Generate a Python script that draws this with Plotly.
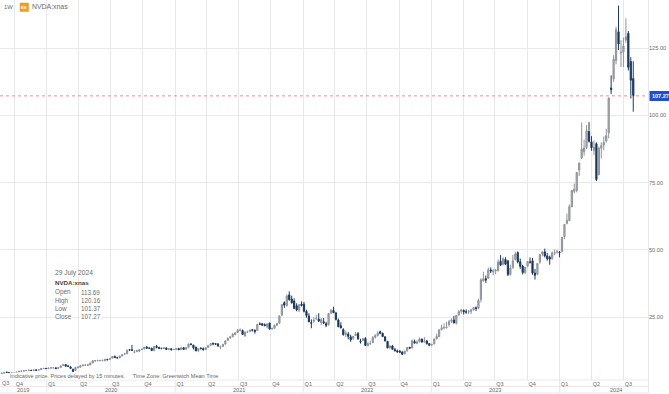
import pandas as pd
import plotly.graph_objects as go

last_week = "2024-07-29"

open_ = [
 3.9,4.1, 4.2,4.6,4.5,4.4,4.4, 4.4,4.6,4.9,5.0, 5.1,5.2,5.3,5.2, 5.4,5.3,5.5,5.9,6.0,
 5.9,6.1,6.2,6.2, 6.0,6.3,7.0,7.4, 6.9,6.5,5.6,5.2,6.2, 6.4,7.0,7.2,7.1, 7.3,8.0,8.7,8.9, 8.9,8.9,8.8,9.3,9.3, 9.8,10.4,9.9,9.9, 10.6,11.3,11.4,12.9,12.9, 12.0,12.3,12.4,13.0, 13.2,13.9,13.5,13.5, 12.7,14.2,13.8,13.4,13.4, 13.6,13.2,13.3,13.0,
 13.1,13.4,13.0,13.7, 13.1,13.8,15.0,14.6, 13.9,12.6,13.4,13.3,13.0, 13.8,14.6,15.3,15.2, 15.1,13.9,14.2,15.0,16.4, 17.4,17.8,18.6,19.3, 20.2,20.1,18.0,19.5, 19.6,20.4,20.2,20.1,22.5, 22.6,22.3,21.5,22.8, 20.7,20.9,22.0,22.8, 25.8,30.4,29.3,33.3,31.8, 31.0,29.3,27.6,29.9,
 29.8,27.2,25.5,23.0,23.5, 24.4,24.3,23.0,23.3, 22.6,22.2,26.6,27.5, 26.6,24.0,21.8,20.4, 18.6,18.7,17.7,17.2,18.2, 18.9,16.0,16.3,17.1, 14.5,15.2,15.6,17.5, 18.2,19.6,19.0,17.7,16.0, 13.6,14.3,13.0,12.5, 12.4,12.1,11.5,12.5,13.8, 13.6,16.0,15.3,15.9, 16.9,15.9,16.2,15.2,
 14.9,15.1,16.9,17.8,20.4, 21.0,21.1,22.3,23.5, 24.0,22.8,25.9,27.2, 27.5,27.0,27.0,27.2, 27.8,28.5,28.3,31.6,38.5, 39.3,39.5,42.5,42.0, 42.3,42.3,45.8,44.7,46.5, 46.0,40.9,43.5,46.5, 49.0,45.6,44.0,41.6, 44.0,45.5,46.0,41.4,41.0, 45.5,48.5,49.3,47.8, 47.3,46.8,48.8,49.2,
 49.2,49.5,55.0,59.9,60.9, 66.0,71.8,72.1,79.7, 84.2,86.5,88.0,94.0, 90.2,87.0,89.5,78.0,87.8, 89.0,90.5,93.5,110.2, 113.6,120.4,131.1,123.2, 123.5,128.0,130.5,120.0,113.69,
]
high = [
 4.2,4.3, 4.6,4.7,4.6,4.5,4.5, 4.7,5.0,5.1,5.2, 5.3,5.4,5.4,5.5, 5.5,5.6,6.0,6.1,6.1,
 6.2,6.3,6.4,6.3, 6.3,7.0,7.6,7.5, 7.2,6.9,5.9,6.6,6.6, 7.1,7.4,7.5,7.5, 8.1,9.0,9.0,9.2, 9.2,9.3,9.6,9.6,9.8, 10.5,10.8,10.3,10.7, 11.3,11.8,13.0,13.2,14.7, 12.8,12.9,13.1,13.4, 14.0,14.3,13.8,13.6, 14.3,14.7,14.0,13.7,13.9, 13.8,13.5,13.4,13.2,
 13.6,13.6,14.0,13.9, 13.9,15.3,15.4,14.8, 14.0,13.6,13.9,13.8,13.8, 14.7,15.4,15.6,15.4, 15.2,14.4,15.1,16.4,17.4, 17.9,19.0,19.4,20.6, 20.8,20.4,19.7,20.0, 20.4,20.6,20.4,22.6,23.1, 22.9,22.7,22.7,23.0, 21.2,22.2,22.9,25.7, 29.8,30.9,33.5,34.6,33.0, 32.0,30.2,29.9,30.9,
 30.7,27.8,26.5,24.2,25.0, 25.9,26.5,24.7,24.7, 23.3,26.6,28.1,28.9, 27.0,24.5,23.1,20.9, 20.0,19.5,18.5,18.0,19.5, 19.5,17.0,17.4,17.6, 15.7,16.2,18.0,18.7, 19.8,20.0,19.3,17.9,16.2, 14.6,14.7,13.6,13.0, 12.8,12.3,12.6,13.9,14.0, 16.7,16.7,16.4,17.5, 17.0,17.6,16.5,15.4,
 15.1,17.0,18.9,20.5,22.1, 22.7,23.2,24.0,24.6, 25.5,25.8,27.7,28.0, 27.9,27.9,27.7,28.0, 28.8,29.0,31.9,39.5,41.9, 40.5,43.5,43.5,43.0, 43.0,46.5,48.1,47.3,47.3, 46.0,44.5,48.2,49.4, 49.5,46.8,44.5,43.8, 45.9,47.2,47.0,42.9,45.1, 48.5,49.5,50.5,48.9, 47.9,49.5,50.1,49.9,
 49.6,54.9,59.5,63.5,66.9, 72.2,74.7,78.9,82.5, 97.4,91.0,96.4,97.5, 92.3,90.7,90.0,88.4,90.0, 92.2,95.0,106.3,114.9, 122.4,132.9,140.8,128.0, 128.9,136.1,131.4,121.6,120.16,
]
low = [
 3.8,4.0, 4.2,4.4,4.3,4.2,4.2, 4.3,4.5,4.8,4.9, 5.0,5.1,5.1,5.1, 5.2,5.2,5.4,5.8,5.8,
 5.9,6.0,6.0,5.8, 6.0,6.3,7.0,6.7, 6.5,5.8,4.5,5.2,6.1, 6.3,6.8,6.9,6.9, 7.2,7.9,8.5,8.6, 8.6,8.6,8.7,9.0,9.2, 9.7,9.8,9.7,9.8, 10.5,11.0,11.3,12.5,12.5, 11.6,12.0,12.0,12.8, 13.1,13.4,13.3,12.5, 12.3,13.4,13.2,13.1,13.2, 12.9,12.8,12.7,12.8,
 12.8,12.8,12.9,12.9, 13.0,13.7,14.7,13.0, 12.4,12.0,13.1,12.7,12.9, 13.7,14.4,14.6,14.8, 14.1,13.2,13.9,14.9,16.3, 17.0,17.5,18.3,19.2, 19.7,18.5,17.8,19.2, 19.5,19.7,18.9,19.9,22.1, 21.9,21.6,20.8,20.4, 20.4,20.6,21.8,22.6, 25.5,28.5,29.0,31.2,30.0, 28.0,27.2,26.9,29.0,
 26.8,24.8,23.2,20.9,23.0, 24.1,23.2,22.0,22.5, 21.3,21.9,26.1,26.5, 23.8,21.3,20.9,18.2, 17.6,16.8,15.9,16.5,18.0, 16.7,15.2,16.2,14.4, 14.1,14.7,15.3,17.1, 17.8,18.7,17.7,16.0,13.5, 13.4,13.0,12.2,11.9, 11.9,11.0,11.1,12.2,13.2, 13.4,15.2,15.0,15.6, 15.5,15.5,14.8,14.3,
 14.1,14.9,16.9,17.6,20.1, 20.5,20.8,21.5,22.9, 22.7,22.3,25.4,26.3, 26.0,26.3,26.2,26.2, 27.4,27.3,28.1,30.5,38.2, 37.8,39.2,41.4,40.6, 41.0,42.0,44.0,44.2,44.5, 40.3,40.5,43.0,46.1, 45.0,43.0,40.9,41.0, 43.5,44.9,40.8,39.0,40.6, 44.9,47.6,47.2,46.0, 44.5,46.3,48.0,48.6,
 47.3,49.0,54.0,59.5,60.9, 66.0,71.0,71.4,77.5, 83.8,85.0,87.5,89.9, 86.9,85.3,75.6,77.7,84.0, 87.0,89.9,91.5,107.9, 112.5,119.0,124.3,118.0, 118.0,127.0,116.7,106.3,101.37,
]
close = [
 4.0,4.2, 4.5,4.5,4.4,4.3,4.4, 4.6,4.9,5.0,5.1, 5.2,5.3,5.2,5.4, 5.3,5.5,5.9,6.0,5.9,
 6.1,6.2,6.2,5.9, 6.2,6.9,7.4,6.8, 6.7,6.0,4.9,6.3,6.5, 7.0,7.2,7.2,7.3, 8.0,8.8,8.9,8.9, 8.9,8.9,9.3,9.2,9.7, 10.4,10.0,9.9,10.6, 11.1,11.4,12.7,12.8,12.7, 12.1,12.6,12.9,13.1, 13.8,13.5,13.5,12.6, 14.1,13.8,13.4,13.4,13.6, 13.0,13.2,12.9,13.05,
 13.3,12.9,13.6,13.0, 13.7,15.0,14.8,13.7, 12.5,13.4,13.3,12.9,13.7, 14.5,15.2,15.1,15.0, 14.3,14.1,14.9,16.2,17.2, 17.7,18.8,19.2,20.2, 20.2,18.6,19.5,19.5, 20.2,20.2,19.7,22.3,22.4, 22.0,21.9,22.5,20.6, 20.8,22.0,22.7,25.5, 29.7,29.5,32.9,31.5,30.4, 28.3,27.7,29.6,29.4,
 27.2,25.6,23.3,22.8,23.9, 24.5,23.6,24.1,22.9, 22.0,26.4,27.6,26.7, 24.2,21.5,21.0,18.5, 19.0,17.9,16.6,17.9,18.7, 16.9,15.8,17.0,14.5, 15.2,15.2,17.4,18.2, 19.1,19.0,17.8,16.2,13.6, 14.3,13.1,12.6,12.1, 12.0,11.2,12.4,13.8,13.5, 16.3,15.4,15.8,16.9, 15.8,16.1,15.2,14.6,
 14.9,16.9,17.9,20.3,21.1, 21.2,21.4,23.3,23.9, 22.9,25.7,27.1,27.8, 27.0,26.9,27.1,27.8, 28.6,28.3,31.2,38.9,39.3, 38.8,42.6,42.2,42.3, 42.5,45.5,44.4,46.7,44.7, 40.9,43.3,46.0,48.5, 45.6,43.9,41.6,43.5, 45.7,45.5,41.4,40.6,45.0, 48.3,49.3,47.8,46.7, 46.6,48.9,49.0,49.5,
 49.0,54.7,59.5,61.0,66.1, 72.1,72.6,78.8,82.3, 87.5,87.9,94.3,90.4, 88.0,88.2,76.2,87.8,88.8, 89.9,92.5,106.5,109.6, 120.9,131.9,126.6,123.5, 125.8,129.2,117.9,113.1,107.27,
]

quarter_dates = ["2019-10-01","2020-01-01","2020-04-01","2020-07-01","2020-10-01","2021-01-01","2021-04-01","2021-07-01",
                 "2021-10-01","2022-01-01","2022-04-01","2022-07-01","2022-10-01","2023-01-01","2023-04-01","2023-07-01",
                 "2023-10-01","2024-01-01","2024-04-01","2024-07-01"]
quarter_labels = ["Q4","Q1","Q2","Q3","Q4","Q1","Q2","Q3","Q4","Q1","Q2","Q3","Q4","Q1","Q2","Q3","Q4","Q1","Q2","Q3"]
year_labels = ["2019","2020","2021","2022","2023","2024"]
year_label_dates = ["2019-10-25","2020-07-01","2021-07-01","2022-07-01","2023-07-01","2024-06-10"]
year_starts = ["2020-01-01","2021-01-01","2022-01-01","2023-01-01","2024-01-01"]
price_ticks = [25, 50, 75, 100, 125]
last_price = 107.27
info_rows = [("Open","113.69"),("High","120.16"),("Low","101.37"),("Close","107.27")]

dates = pd.date_range(end=last_week, periods=len(close), freq="7D")

W, H = 669, 394
PW, PH = 648, 380
GRID = "#e8e8e8"
TXT = "#6b6b6b"
FONT = "Liberation Sans, Arial, sans-serif"

def fx(p): return p / PW
def fy(p): return (PH - p) / PH

fig = go.Figure(go.Candlestick(
    x=dates, open=open_, high=high, low=low, close=close,
    increasing=dict(line=dict(color="#8d929a", width=1), fillcolor="#aeb2b8"),
    decreasing=dict(line=dict(color="#1c3a5e", width=1), fillcolor="#14304f"),
    whiskerwidth=0, hoverinfo="skip", showlegend=False,
))

def label(px, py, text, size=6.4, color=TXT, anchor="left", bg=None, bold=False):
    fig.add_annotation(xref="paper", yref="paper", x=fx(px), y=fy(py), text=f"<b>{text}</b>" if bold else text,
                       showarrow=False, xanchor=anchor, yanchor="middle", bgcolor=bg,
                       font=dict(size=size, color=color, family=FONT), borderpad=0)

def hline(py, x0=0, x1=PW, color=GRID):
    fig.add_shape(type="line", xref="paper", yref="paper", x0=fx(x0), x1=fx(x1), y0=fy(py), y1=fy(py),
                  line=dict(color=color, width=1), layer="below")

for py in (380, 386.5, 393):
    hline(py)
fig.add_shape(type="line", xref="paper", yref="paper", x0=fx(648.5), x1=fx(648.5), y0=fy(0), y1=fy(393),
              line=dict(color=GRID, width=1), layer="below")
for d in year_starts:
    fig.add_shape(type="line", xref="x", yref="paper", x0=d, x1=d, y0=fy(380), y1=fy(393),
                  line=dict(color=GRID, width=1), layer="below")

fig.add_shape(type="line", xref="paper", yref="y", x0=0, x1=1, y0=last_price, y1=last_price,
              line=dict(color="#ef8a90", width=1, dash="3px,3px"), layer="above")

# header
label(3.3, 7, "1W", size=5.9)
fig.add_shape(type="rect", xref="paper", yref="paper", x0=fx(20), x1=fx(28.5), y0=fy(3), y1=fy(11.5),
              fillcolor="#f0a020", line=dict(color="#e0951c", width=0.5), layer="above")
label(24.3, 7.3, "ES", size=4.2, color="#ffffff", anchor="center", bold=True)
label(31, 7, "NVDA:xnas", size=6.9)

# info panel
label(54, 272.7, "29 July 2024", size=6.7)
label(54, 282.7, "NVDA:xnas", size=6.2, color="#444444", bold=True)
for i, (name, val) in enumerate(info_rows):
    py = 292.4 + i * 8.1
    label(54, py, name, size=6.4, bg="#ffffff")
    label(80, py, val, size=6.3, bg="#ffffff")

label(9, 376, "Indicative price. Prices delayed by 15 minutes.&nbsp;&nbsp;&nbsp;&nbsp;&nbsp;Time Zone: Greenwich Mean Time", size=5.6, color="#666666", bg="#ffffff")

# sticky first quarter + year band
label(1, 382.8, "Q3", size=5.5)
for lab, d in zip(year_labels, year_label_dates):
    fig.add_annotation(xref="x", yref="paper", x=d, y=fy(390.4), text=lab, showarrow=False, xanchor="center",
                       yanchor="middle", font=dict(size=5.6, color=TXT, family=FONT))

# last price tag
fig.add_shape(type="rect", xref="paper", yref="paper", x0=fx(649.5), x1=fx(669), y0=fy(91), y1=fy(101),
              fillcolor="#1d4fd0", line=dict(width=0), layer="above")
label(651, 96, "107.27", size=5.5, color="#ffffff", bold=True)

fig.update_layout(
    width=W, height=H, autosize=False,
    margin=dict(l=0, r=W - PW, t=0, b=H - PH, pad=0),
    paper_bgcolor="#ffffff", plot_bgcolor="#ffffff",
    font=dict(family=FONT, size=6, color=TXT),
    showlegend=False,
    xaxis=dict(type="date", range=["2019-08-21", "2024-09-09"], rangeslider=dict(visible=False),
               tickmode="array", tickvals=quarter_dates, ticktext=quarter_labels, ticklabelshift=5,
               showgrid=True, gridcolor=GRID, gridwidth=1, zeroline=False, showline=False, ticks="",
               tickfont=dict(size=5.5, color=TXT), ticklabelstandoff=-1),
    yaxis=dict(side="right", range=[1.67, 142.9], tickmode="array", tickvals=price_ticks,
               ticktext=[f"{v:.2f}" for v in price_ticks], showgrid=True, gridcolor=GRID, gridwidth=1,
               zeroline=False, showline=False, ticks="", tickfont=dict(size=5.6, color=TXT)),
)

fig.write_html("out.html", config={"displayModeBar": False},
               post_script="document.body.style.margin='0';")
